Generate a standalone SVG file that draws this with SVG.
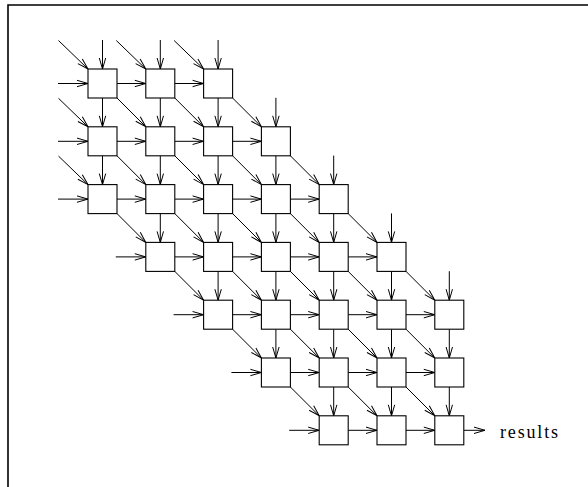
<svg xmlns="http://www.w3.org/2000/svg" width="588" height="487" viewBox="0 0 588 487">
<style>
.box{fill:#fff;stroke:#000;stroke-width:1.1}
.c line{stroke:#000;stroke-width:1;marker-end:url(#ah)}
.frame{stroke:#000;stroke-width:1.6;fill:none}
.lbl{font-family:"Liberation Serif","Times New Roman",serif;font-size:18px;fill:#000}
</style>
<defs>
<marker id="ah" markerUnits="userSpaceOnUse" markerWidth="14" markerHeight="10" viewBox="-12 -5 14 10" refX="0" refY="0" orient="auto" overflow="visible">
<path d="M-11,-3.2 L0,0 L-11,3.2" fill="none" stroke="#000" stroke-width="1"/>
</marker>
</defs>
<rect width="588" height="487" fill="#fff"/>
<path class="frame" d="M8,487 L8,5 L588,5"/>
<g id="connectors" class="c">
<!-- horizontal inputs -->
<line x1="58" y1="83.5" x2="88" y2="83.5"/>
<line x1="58" y1="141.3" x2="88" y2="141.3"/>
<line x1="58" y1="199.1" x2="88" y2="199.1"/>
<line x1="115.8" y1="256.9" x2="145.8" y2="256.9"/>
<line x1="173.6" y1="314.7" x2="203.6" y2="314.7"/>
<line x1="231.4" y1="372.5" x2="261.4" y2="372.5"/>
<line x1="289.2" y1="430.3" x2="319.2" y2="430.3"/>
<!-- horizontal between -->
<line x1="117" y1="83.5" x2="145.8" y2="83.5"/>
<line x1="174.8" y1="83.5" x2="203.6" y2="83.5"/>
<line x1="117" y1="141.3" x2="145.8" y2="141.3"/>
<line x1="174.8" y1="141.3" x2="203.6" y2="141.3"/>
<line x1="232.6" y1="141.3" x2="261.4" y2="141.3"/>
<line x1="117" y1="199.1" x2="145.8" y2="199.1"/>
<line x1="174.8" y1="199.1" x2="203.6" y2="199.1"/>
<line x1="232.6" y1="199.1" x2="261.4" y2="199.1"/>
<line x1="290.4" y1="199.1" x2="319.2" y2="199.1"/>
<line x1="174.8" y1="256.9" x2="203.6" y2="256.9"/>
<line x1="232.6" y1="256.9" x2="261.4" y2="256.9"/>
<line x1="290.4" y1="256.9" x2="319.2" y2="256.9"/>
<line x1="348.2" y1="256.9" x2="377" y2="256.9"/>
<line x1="232.6" y1="314.7" x2="261.4" y2="314.7"/>
<line x1="290.4" y1="314.7" x2="319.2" y2="314.7"/>
<line x1="348.2" y1="314.7" x2="377" y2="314.7"/>
<line x1="406" y1="314.7" x2="434.8" y2="314.7"/>
<line x1="290.4" y1="372.5" x2="319.2" y2="372.5"/>
<line x1="348.2" y1="372.5" x2="377" y2="372.5"/>
<line x1="406" y1="372.5" x2="434.8" y2="372.5"/>
<line x1="348.2" y1="430.3" x2="377" y2="430.3"/>
<line x1="406" y1="430.3" x2="434.8" y2="430.3"/>
<line x1="463.8" y1="430.3" x2="485" y2="430.3"/>
<!-- vertical inputs -->
<line x1="102.5" y1="40" x2="102.5" y2="69"/>
<line x1="160.3" y1="40" x2="160.3" y2="69"/>
<line x1="218.1" y1="40" x2="218.1" y2="69"/>
<line x1="275.9" y1="97.8" x2="275.9" y2="126.8"/>
<line x1="333.7" y1="155.6" x2="333.7" y2="184.6"/>
<line x1="391.5" y1="213.4" x2="391.5" y2="242.4"/>
<line x1="449.3" y1="271.2" x2="449.3" y2="300.2"/>
<!-- vertical between -->
<line x1="102.5" y1="98" x2="102.5" y2="126.8"/>
<line x1="102.5" y1="155.8" x2="102.5" y2="184.6"/>
<line x1="160.3" y1="98" x2="160.3" y2="126.8"/>
<line x1="160.3" y1="155.8" x2="160.3" y2="184.6"/>
<line x1="160.3" y1="213.6" x2="160.3" y2="242.4"/>
<line x1="218.1" y1="98" x2="218.1" y2="126.8"/>
<line x1="218.1" y1="155.8" x2="218.1" y2="184.6"/>
<line x1="218.1" y1="213.6" x2="218.1" y2="242.4"/>
<line x1="218.1" y1="271.4" x2="218.1" y2="300.2"/>
<line x1="275.9" y1="155.8" x2="275.9" y2="184.6"/>
<line x1="275.9" y1="213.6" x2="275.9" y2="242.4"/>
<line x1="275.9" y1="271.4" x2="275.9" y2="300.2"/>
<line x1="275.9" y1="329.2" x2="275.9" y2="358"/>
<line x1="333.7" y1="213.6" x2="333.7" y2="242.4"/>
<line x1="333.7" y1="271.4" x2="333.7" y2="300.2"/>
<line x1="333.7" y1="329.2" x2="333.7" y2="358"/>
<line x1="333.7" y1="387" x2="333.7" y2="415.8"/>
<line x1="391.5" y1="271.4" x2="391.5" y2="300.2"/>
<line x1="391.5" y1="329.2" x2="391.5" y2="358"/>
<line x1="391.5" y1="387" x2="391.5" y2="415.8"/>
<line x1="449.3" y1="329.2" x2="449.3" y2="358"/>
<line x1="449.3" y1="387" x2="449.3" y2="415.8"/>
<!-- diagonal inputs -->
<line x1="58.5" y1="40.5" x2="88" y2="69"/>
<line x1="116.3" y1="40.5" x2="145.8" y2="69"/>
<line x1="174.1" y1="40.5" x2="203.6" y2="69"/>
<line x1="58.5" y1="98.3" x2="88" y2="126.8"/>
<line x1="58.5" y1="156.1" x2="88" y2="184.6"/>
<!-- diagonal between -->
<line x1="117" y1="98" x2="145.8" y2="126.8"/>
<line x1="174.8" y1="98" x2="203.6" y2="126.8"/>
<line x1="232.6" y1="98" x2="261.4" y2="126.8"/>
<line x1="117" y1="155.8" x2="145.8" y2="184.6"/>
<line x1="174.8" y1="155.8" x2="203.6" y2="184.6"/>
<line x1="232.6" y1="155.8" x2="261.4" y2="184.6"/>
<line x1="290.4" y1="155.8" x2="319.2" y2="184.6"/>
<line x1="117" y1="213.6" x2="145.8" y2="242.4"/>
<line x1="174.8" y1="213.6" x2="203.6" y2="242.4"/>
<line x1="232.6" y1="213.6" x2="261.4" y2="242.4"/>
<line x1="290.4" y1="213.6" x2="319.2" y2="242.4"/>
<line x1="348.2" y1="213.6" x2="377" y2="242.4"/>
<line x1="174.8" y1="271.4" x2="203.6" y2="300.2"/>
<line x1="232.6" y1="271.4" x2="261.4" y2="300.2"/>
<line x1="290.4" y1="271.4" x2="319.2" y2="300.2"/>
<line x1="348.2" y1="271.4" x2="377" y2="300.2"/>
<line x1="406" y1="271.4" x2="434.8" y2="300.2"/>
<line x1="232.6" y1="329.2" x2="261.4" y2="358"/>
<line x1="290.4" y1="329.2" x2="319.2" y2="358"/>
<line x1="348.2" y1="329.2" x2="377" y2="358"/>
<line x1="406" y1="329.2" x2="434.8" y2="358"/>
<line x1="290.4" y1="387" x2="319.2" y2="415.8"/>
<line x1="348.2" y1="387" x2="377" y2="415.8"/>
<line x1="406" y1="387" x2="434.8" y2="415.8"/>
</g>
<g id="n-0-0"><rect class="box" x="88" y="69" width="29" height="29"/></g>
<g id="n-0-1"><rect class="box" x="145.8" y="69" width="29" height="29"/></g>
<g id="n-0-2"><rect class="box" x="203.6" y="69" width="29" height="29"/></g>
<g id="n-1-0"><rect class="box" x="88" y="126.8" width="29" height="29"/></g>
<g id="n-1-1"><rect class="box" x="145.8" y="126.8" width="29" height="29"/></g>
<g id="n-1-2"><rect class="box" x="203.6" y="126.8" width="29" height="29"/></g>
<g id="n-1-3"><rect class="box" x="261.4" y="126.8" width="29" height="29"/></g>
<g id="n-2-0"><rect class="box" x="88" y="184.6" width="29" height="29"/></g>
<g id="n-2-1"><rect class="box" x="145.8" y="184.6" width="29" height="29"/></g>
<g id="n-2-2"><rect class="box" x="203.6" y="184.6" width="29" height="29"/></g>
<g id="n-2-3"><rect class="box" x="261.4" y="184.6" width="29" height="29"/></g>
<g id="n-2-4"><rect class="box" x="319.2" y="184.6" width="29" height="29"/></g>
<g id="n-3-1"><rect class="box" x="145.8" y="242.4" width="29" height="29"/></g>
<g id="n-3-2"><rect class="box" x="203.6" y="242.4" width="29" height="29"/></g>
<g id="n-3-3"><rect class="box" x="261.4" y="242.4" width="29" height="29"/></g>
<g id="n-3-4"><rect class="box" x="319.2" y="242.4" width="29" height="29"/></g>
<g id="n-3-5"><rect class="box" x="377" y="242.4" width="29" height="29"/></g>
<g id="n-4-2"><rect class="box" x="203.6" y="300.2" width="29" height="29"/></g>
<g id="n-4-3"><rect class="box" x="261.4" y="300.2" width="29" height="29"/></g>
<g id="n-4-4"><rect class="box" x="319.2" y="300.2" width="29" height="29"/></g>
<g id="n-4-5"><rect class="box" x="377" y="300.2" width="29" height="29"/></g>
<g id="n-4-6"><rect class="box" x="434.8" y="300.2" width="29" height="29"/></g>
<g id="n-5-3"><rect class="box" x="261.4" y="358" width="29" height="29"/></g>
<g id="n-5-4"><rect class="box" x="319.2" y="358" width="29" height="29"/></g>
<g id="n-5-5"><rect class="box" x="377" y="358" width="29" height="29"/></g>
<g id="n-5-6"><rect class="box" x="434.8" y="358" width="29" height="29"/></g>
<g id="n-6-4"><rect class="box" x="319.2" y="415.8" width="29" height="29"/></g>
<g id="n-6-5"><rect class="box" x="377" y="415.8" width="29" height="29"/></g>
<g id="n-6-6"><rect class="box" x="434.8" y="415.8" width="29" height="29"/></g>
<g id="results"><text class="lbl" x="500" y="437.7" textLength="58" lengthAdjust="spacing">results</text></g>
</svg>
